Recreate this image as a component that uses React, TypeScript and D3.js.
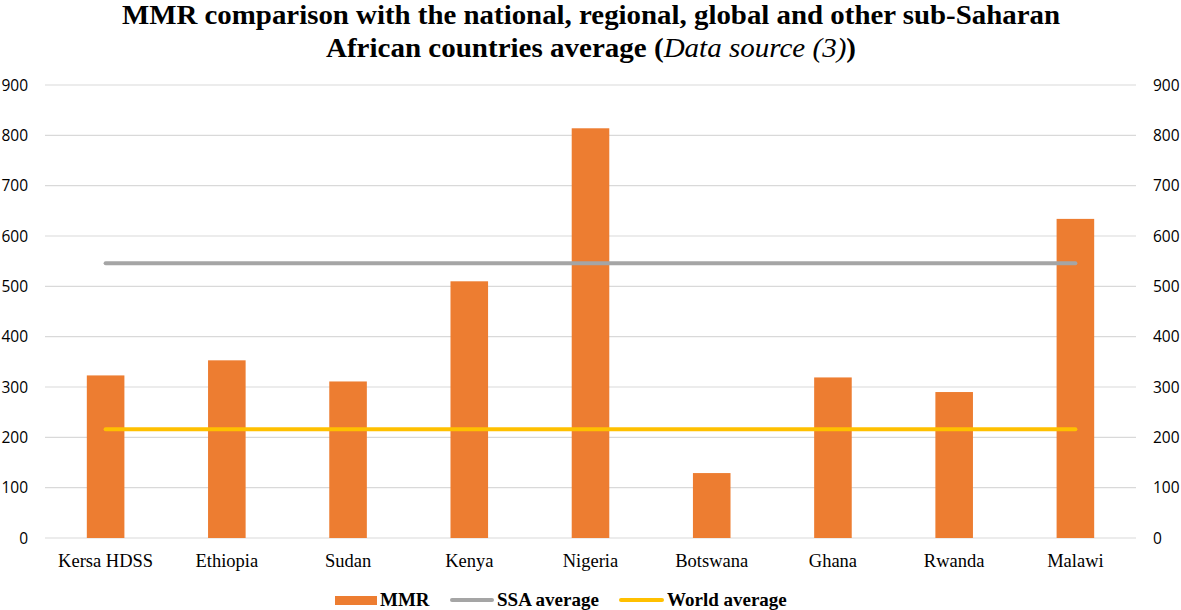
import React from 'react';
import * as d3 from 'd3';

const categories = ['Kersa HDSS', 'Ethiopia', 'Sudan', 'Kenya', 'Nigeria', 'Botswana', 'Ghana', 'Rwanda', 'Malawi'];
const mmr = [323, 353, 311, 510, 814, 129, 319, 290, 634];
const ssaAverage = [546, 546, 546, 546, 546, 546, 546, 546, 546];
const worldAverage = [216, 216, 216, 216, 216, 216, 216, 216, 216];
const yTicks = [0, 100, 200, 300, 400, 500, 600, 700, 800, 900];

const W = 1181;
const H = 610;
const margin = { left: 45, right: 45, top: 85, bottom: 72 };

export default function App() {
  const x = d3.scaleBand<string>()
    .domain(categories)
    .range([margin.left, W - margin.right])
    .paddingInner(0.69)
    .paddingOuter(0.345);
  const y = d3.scaleLinear().domain([0, 900]).range([H - margin.bottom, margin.top]);
  const cx = (c: string) => (x(c) as number) + x.bandwidth() / 2;

  const line = d3.line<number>()
    .x((_, i) => cx(categories[i]))
    .y(d => y(d));

  const sans = '"Open Sans", Calibri, "Liberation Sans", sans-serif';
  const serif = '"Liberation Serif", "Times New Roman", serif';

  return (
    <svg width={W} height={H} style={{ position: 'absolute', left: 0, top: 0 }}>
      <rect width={W} height={H} fill="#fff" />
      <text x={591} y={24} textAnchor="middle" fontFamily={serif} fontWeight="bold" fontSize={27}
        textLength={938} lengthAdjust="spacingAndGlyphs">
        MMR comparison with the national, regional, global and other sub-Saharan
      </text>
      <text x={591} y={57} textAnchor="middle" fontFamily={serif} fontWeight="bold" fontSize={27}
        textLength={530} lengthAdjust="spacingAndGlyphs">
        African countries average (<tspan fontStyle="italic" fontWeight="normal">Data source (3)</tspan>)
      </text>

      {yTicks.map(t => (
        <g key={t}>
          <line x1={margin.left} x2={W - margin.right} y1={y(t)} y2={y(t)} stroke="#d9d9d9" strokeWidth={1.2} />
          <text x={28} y={y(t)} dy="0.36em" textAnchor="end" fontFamily={sans} fontSize={15.5} fill="#000">{t}</text>
          <text x={1153} y={y(t)} dy="0.36em" textAnchor="start" fontFamily={sans} fontSize={15.5} fill="#000">{t}</text>
        </g>
      ))}

      {categories.map((c, i) => (
        <rect key={c} x={x(c)} y={y(mmr[i])} width={x.bandwidth()} height={y(0) - y(mmr[i])} fill="#ED7D31" />
      ))}

      <path d={line(ssaAverage) || ''} fill="none" stroke="#A5A5A5" strokeWidth={4} strokeLinecap="round" />
      <path d={line(worldAverage) || ''} fill="none" stroke="#FFC000" strokeWidth={4} strokeLinecap="round" />

      {categories.map(c => (
        <text key={c} x={cx(c)} y={567} textAnchor="middle" fontFamily={serif} fontSize={18.5} fill="#000">{c}</text>
      ))}

      <g fontFamily={serif} fontWeight="bold" fontSize={19}>
        <rect x={335} y={596} width={42} height={9} fill="#ED7D31" />
        <text x={380} y={606}>MMR</text>
        <line x1={452} x2={492} y1={600} y2={600} stroke="#A5A5A5" strokeWidth={4} strokeLinecap="round" />
        <text x={497} y={606}>SSA average</text>
        <line x1={621} x2={662} y1={600} y2={600} stroke="#FFC000" strokeWidth={4} strokeLinecap="round" />
        <text x={667} y={606}>World average</text>
      </g>
    </svg>
  );
}
